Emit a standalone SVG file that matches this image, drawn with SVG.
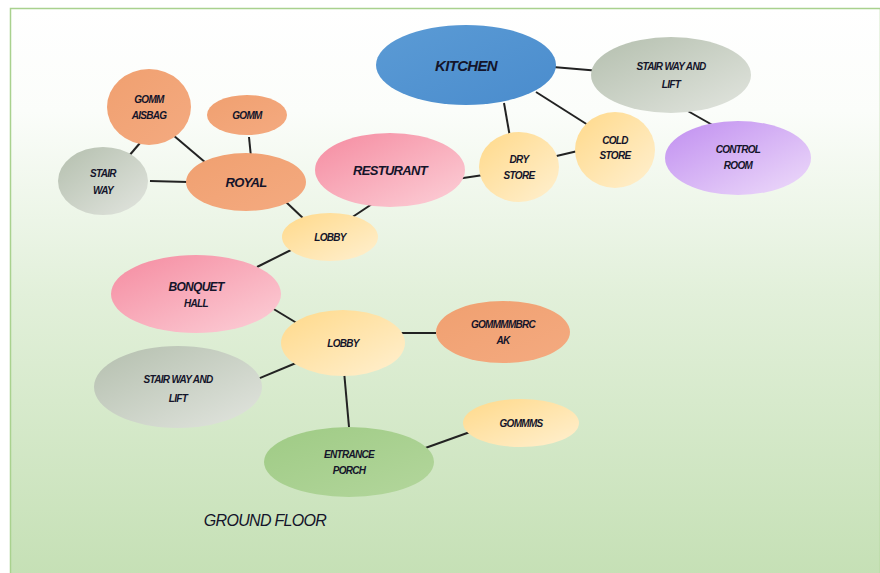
<svg xmlns="http://www.w3.org/2000/svg" width="880" height="573" viewBox="0 0 880 573">
<defs>
<linearGradient id="bg" x1="0" y1="0" x2="0" y2="1">
<stop offset="0" stop-color="#ffffff"/><stop offset="0.18" stop-color="#fbfdfa"/><stop offset="0.5" stop-color="#e2f0da"/><stop offset="1" stop-color="#c5e0b5"/>
</linearGradient>
<linearGradient id="gBlue" x1="0" y1="0" x2="1" y2="1"><stop offset="0" stop-color="#5b9bd5"/><stop offset="1" stop-color="#4a8ccd"/></linearGradient>
<linearGradient id="gGray" x1="0" y1="0" x2="1" y2="1"><stop offset="0" stop-color="#b4bfae"/><stop offset="1" stop-color="#e2e5df"/></linearGradient>
<linearGradient id="gPurple" x1="0" y1="0" x2="1" y2="1"><stop offset="0" stop-color="#c08ef0"/><stop offset="1" stop-color="#eedcfa"/></linearGradient>
<linearGradient id="gYellow" x1="0" y1="0" x2="1" y2="1"><stop offset="0" stop-color="#ffd98a"/><stop offset="1" stop-color="#fff0d0"/></linearGradient>
<linearGradient id="gPink" x1="0" y1="0" x2="1" y2="1"><stop offset="0" stop-color="#f58ba0"/><stop offset="1" stop-color="#fcd0d8"/></linearGradient>
<linearGradient id="gOrange" x1="0" y1="0" x2="1" y2="1"><stop offset="0" stop-color="#f0a070"/><stop offset="1" stop-color="#f4aa80"/></linearGradient>
<linearGradient id="gGreen" x1="0" y1="0" x2="1" y2="1"><stop offset="0" stop-color="#9fcb85"/><stop offset="1" stop-color="#b3d69c"/></linearGradient>
</defs>
<style>
.t{font-family:"Liberation Sans",Arial,sans-serif;font-size:10px;font-style:italic;font-weight:bold;fill:#14142a;text-anchor:middle;letter-spacing:-0.7px}
.c line{stroke:#222;stroke-width:2}
</style>
<rect x="0" y="0" width="880" height="573" fill="#ffffff"/>
<rect x="10.5" y="8.5" width="870" height="570" fill="url(#bg)" stroke="#a9d18e" stroke-width="1.5"/>
<g class="c" id="connectors">
<line x1="553" y1="67" x2="612" y2="72"/>
<line x1="536" y1="92" x2="588" y2="125"/>
<line x1="504" y1="103" x2="511" y2="143"/>
<line x1="686" y1="110" x2="716" y2="127"/>
<line x1="548" y1="158" x2="582" y2="150"/>
<line x1="443" y1="181" x2="497" y2="173"/>
<line x1="249" y1="137" x2="251" y2="157"/>
<line x1="173" y1="135" x2="206" y2="163"/>
<line x1="140" y1="143" x2="128" y2="157"/>
<line x1="150" y1="181" x2="188" y2="182"/>
<line x1="286" y1="202" x2="305" y2="220"/>
<line x1="378" y1="200" x2="348" y2="220"/>
<line x1="293" y1="249" x2="257" y2="267"/>
<line x1="267" y1="305" x2="300" y2="325"/>
<line x1="384" y1="333" x2="436" y2="333"/>
<line x1="296" y1="363" x2="248" y2="383"/>
<line x1="344" y1="371" x2="349" y2="427"/>
<line x1="403" y1="456" x2="470" y2="432"/>
</g>
<g id="kitchen"><ellipse cx="466" cy="65" rx="90" ry="40" fill="url(#gBlue)"/><text class="t" x="466" y="71" style="font-size:15px">KITCHEN</text></g>
<g id="stair-lift-top"><ellipse cx="671" cy="75" rx="80" ry="38" fill="url(#gGray)"/><text class="t" x="671" y="70">STAIR WAY AND</text><text class="t" x="671" y="88">LIFT</text></g>
<g id="control-room"><ellipse cx="738" cy="158" rx="73" ry="37" fill="url(#gPurple)"/><text class="t" x="738" y="153">CONTROL</text><text class="t" x="738" y="169">ROOM</text></g>
<g id="cold-store"><ellipse cx="615" cy="150" rx="40" ry="38" fill="url(#gYellow)"/><text class="t" x="615" y="144">COLD</text><text class="t" x="615" y="159">STORE</text></g>
<g id="dry-store"><ellipse cx="519" cy="167" rx="40" ry="35" fill="url(#gYellow)"/><text class="t" x="519" y="163">DRY</text><text class="t" x="519" y="179">STORE</text></g>
<g id="resturant"><ellipse cx="390" cy="170" rx="75" ry="37" fill="url(#gPink)"/><text class="t" x="390" y="175" style="font-size:13px">RESTURANT</text></g>
<g id="comm-small"><ellipse cx="247" cy="115" rx="40" ry="20" fill="url(#gOrange)"/><text class="t" x="247" y="119">GOMM</text></g>
<g id="comm-aisbag"><ellipse cx="149" cy="107" rx="42" ry="38" fill="url(#gOrange)"/><text class="t" x="149" y="103">GOMM</text><text class="t" x="149" y="119">AISBAG</text></g>
<g id="stair-way"><ellipse cx="103" cy="181" rx="45" ry="34" fill="url(#gGray)"/><text class="t" x="103" y="177">STAIR</text><text class="t" x="103" y="194">WAY</text></g>
<g id="royal"><ellipse cx="246" cy="182" rx="60" ry="29" fill="url(#gOrange)"/><text class="t" x="246" y="187" style="font-size:13px">ROYAL</text></g>
<g id="lobby-upper"><ellipse cx="330" cy="237" rx="48" ry="24" fill="url(#gYellow)"/><text class="t" x="330" y="241">LOBBY</text></g>
<g id="bonquet-hall"><ellipse cx="196" cy="294" rx="85" ry="39" fill="url(#gPink)"/><text class="t" x="196" y="291" style="font-size:12px">BONQUET</text><text class="t" x="196" y="307">HALL</text></g>
<g id="lobby-lower"><ellipse cx="343" cy="343" rx="62" ry="33" fill="url(#gYellow)"/><text class="t" x="343" y="347">LOBBY</text></g>
<g id="comm-ak"><ellipse cx="503" cy="332" rx="67" ry="31" fill="url(#gOrange)"/><text class="t" x="503" y="328">GOMMMMBRC</text><text class="t" x="503" y="344">AK</text></g>
<g id="stair-lift-lower"><ellipse cx="178" cy="387" rx="84" ry="41" fill="url(#gGray)"/><text class="t" x="178" y="383">STAIR WAY AND</text><text class="t" x="178" y="402">LIFT</text></g>
<g id="entrance-porch"><ellipse cx="349" cy="462" rx="85" ry="35" fill="url(#gGreen)"/><text class="t" x="349" y="458">ENTRANCE</text><text class="t" x="349" y="474">PORCH</text></g>
<g id="comms"><ellipse cx="521" cy="423" rx="58" ry="24" fill="url(#gYellow)"/><text class="t" x="521" y="427">GOMMMS</text></g>
<text class="t" x="265" y="526" style="font-size:16px;font-weight:normal">GROUND FLOOR</text>
</svg>
